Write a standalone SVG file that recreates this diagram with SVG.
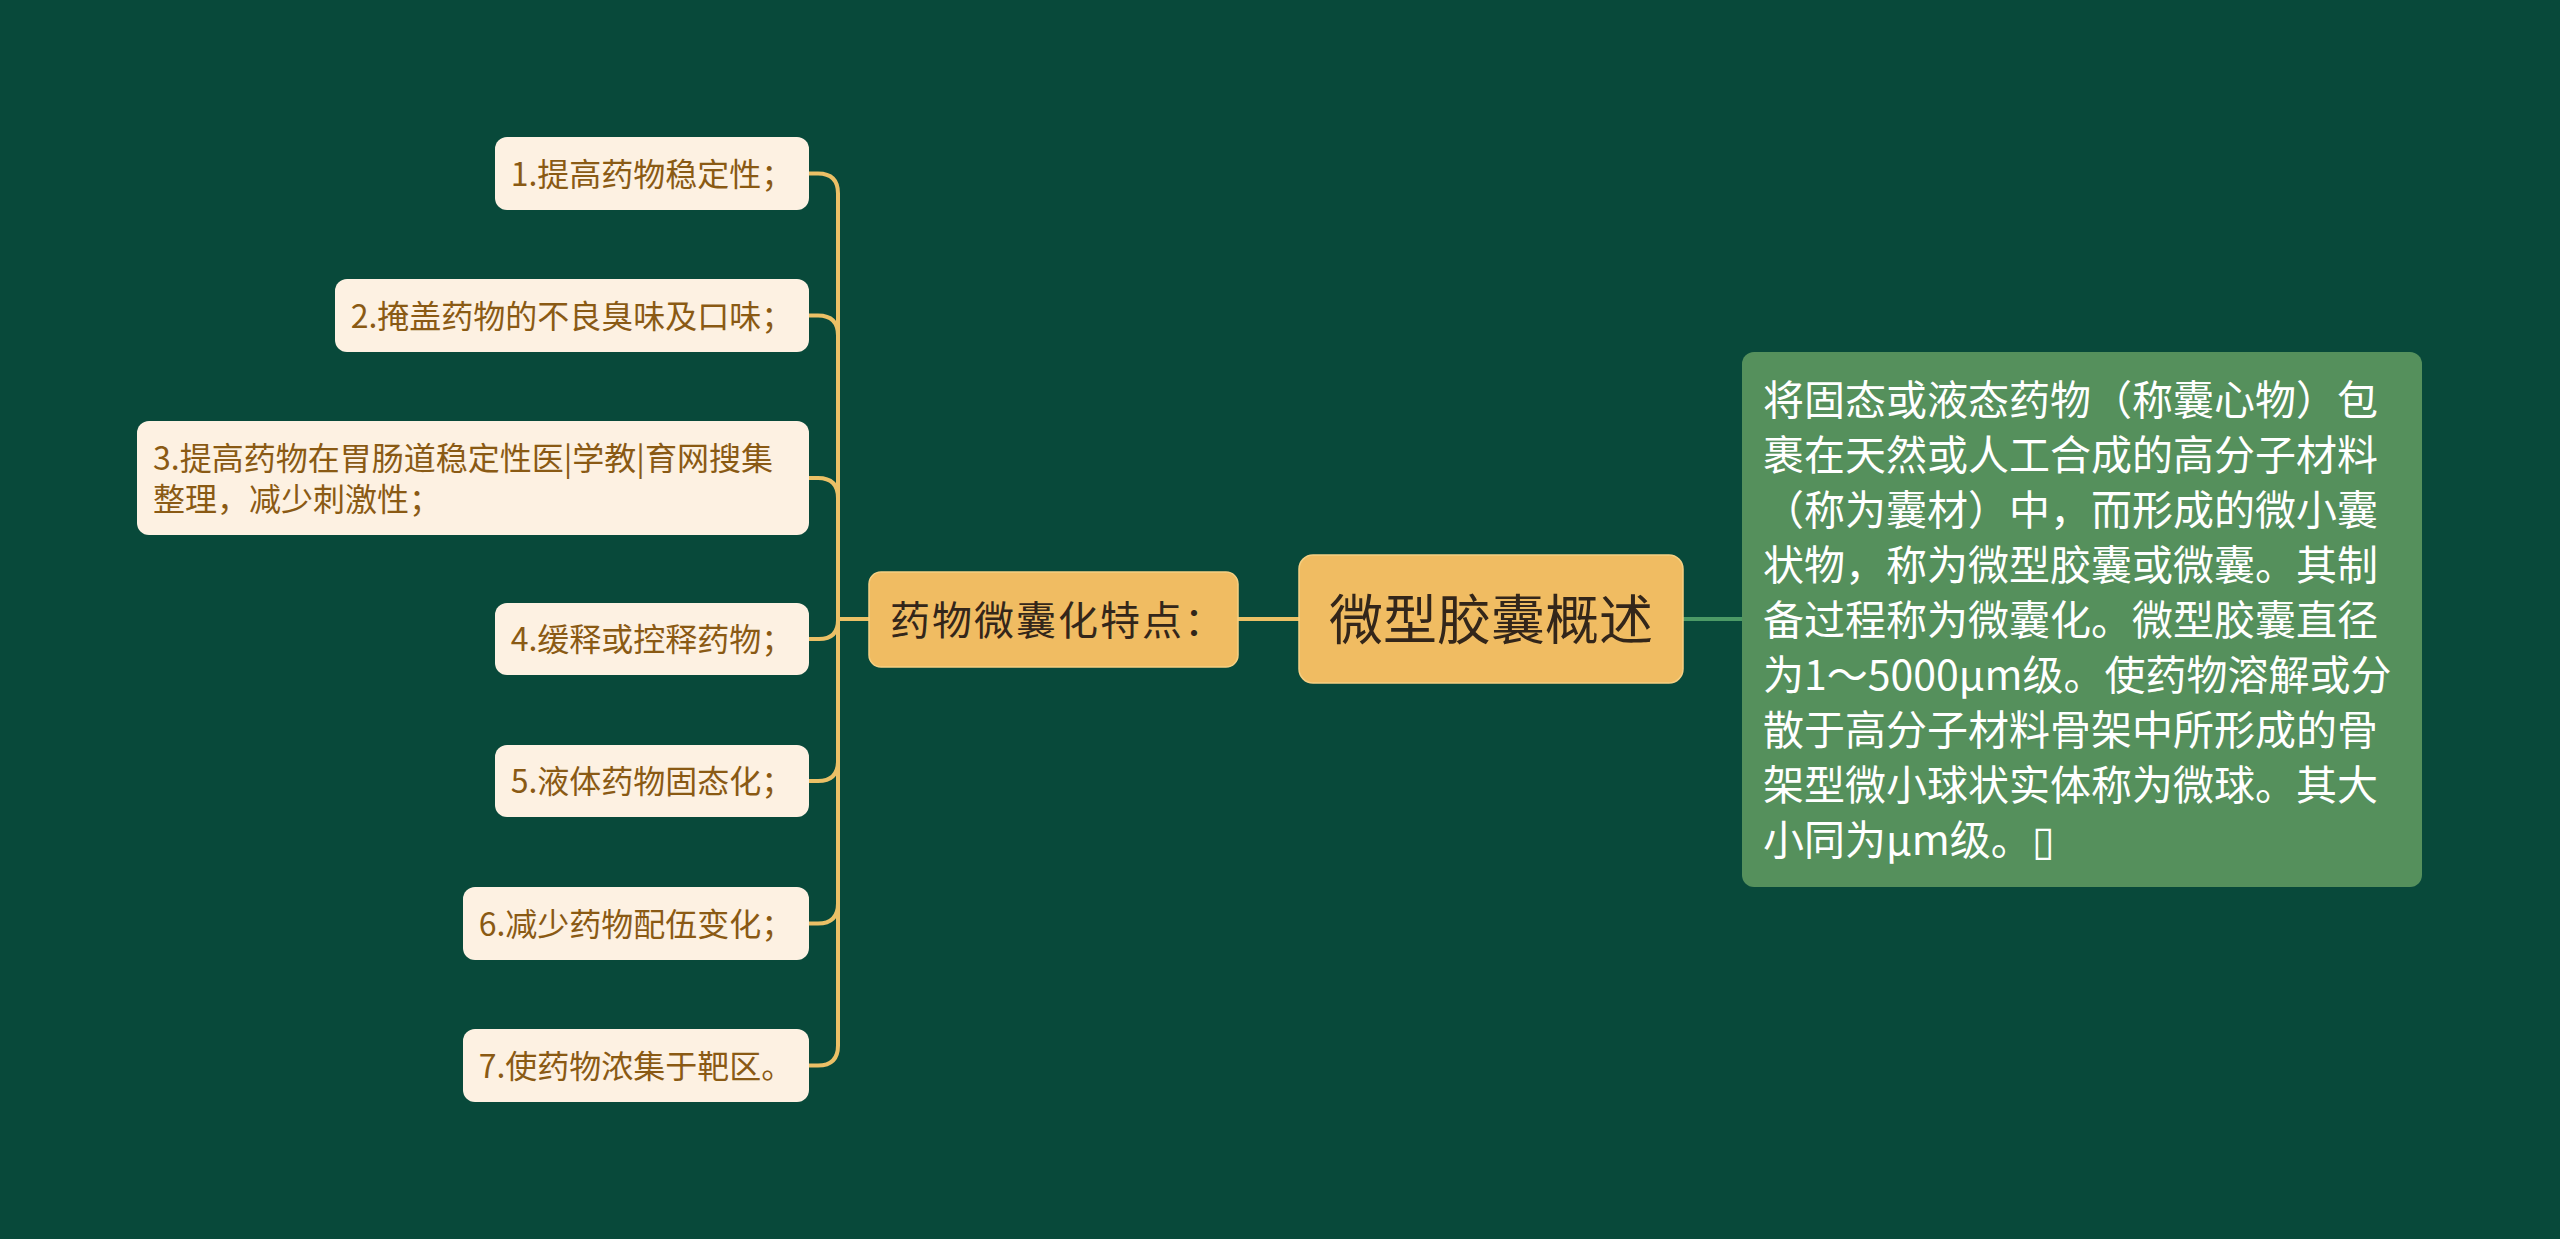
<svg xmlns="http://www.w3.org/2000/svg" width="2560" height="1239" viewBox="0 0 2560 1239">
<style>
.leaf rect{fill:#FDF1E2;}
.leaf text{font-family:"Noto Sans CJK SC","Noto Sans",sans-serif;font-size:32px;fill:#8A5A14;}
.mid rect{fill:#F0BC62;stroke:#F6CF82;stroke-width:1.5;}
.mid text{font-family:"Noto Sans CJK SC","Noto Sans",sans-serif;font-size:40px;letter-spacing:2px;fill:#33261A;}
.root rect{fill:#F0BC62;stroke:#F6CF82;stroke-width:1.5;}
.root text{font-family:"Noto Sans CJK SC","Noto Sans",sans-serif;font-size:54px;fill:#33261A;text-anchor:middle;}
.desc rect{fill:#55905C;}
.desc text{font-family:"Noto Sans CJK SC","Noto Sans",sans-serif;font-size:41px;fill:#FFFFFF;}
.gold{fill:none;stroke:#EBC066;stroke-width:4;}
.green{fill:none;stroke:#4C9A66;stroke-width:4;}
</style>
<rect x="0" y="0" width="2560" height="1239" fill="#08493A"/>
<g id="connectors">
<path class="gold" d="M869 619 H838 V193.5 Q838 173.5 818 173.5 H809"/>
<path class="gold" d="M869 619 H838 V335.5 Q838 315.5 818 315.5 H809"/>
<path class="gold" d="M869 619 H838 V498 Q838 478 818 478 H809"/>
<path class="gold" d="M869 619 H838 V620 Q838 639 819 639 H809"/>
<path class="gold" d="M869 619 H838 V761 Q838 781 818 781 H809"/>
<path class="gold" d="M869 619 H838 V903.5 Q838 923.5 818 923.5 H809"/>
<path class="gold" d="M869 619 H838 V1045.5 Q838 1065.5 818 1065.5 H809"/>
<path class="gold" d="M1238 619 H1299"/>
<path class="green" d="M1683 619 H1742"/>
</g>
<g id="leaf1" class="leaf"><rect x="495" y="137" width="314" height="73" rx="12"/><text x="652" y="185.5" text-anchor="middle">1.提高药物稳定性；</text></g>
<g id="leaf2" class="leaf"><rect x="335" y="279" width="474" height="73" rx="12"/><text x="572" y="327.5" text-anchor="middle">2.掩盖药物的不良臭味及口味；</text></g>
<g id="leaf3" class="leaf"><rect x="137" y="421" width="672" height="114" rx="12"/><text x="153" y="469.5">3.提高药物在胃肠道稳定性医|学教|育网搜集</text><text x="153" y="510.5">整理，减少刺激性；</text></g>
<g id="leaf4" class="leaf"><rect x="495" y="603" width="314" height="72" rx="12"/><text x="652" y="651" text-anchor="middle">4.缓释或控释药物；</text></g>
<g id="leaf5" class="leaf"><rect x="495" y="745" width="314" height="72" rx="12"/><text x="652" y="793" text-anchor="middle">5.液体药物固态化；</text></g>
<g id="leaf6" class="leaf"><rect x="463" y="887" width="346" height="73" rx="12"/><text x="636" y="935.5" text-anchor="middle">6.减少药物配伍变化；</text></g>
<g id="leaf7" class="leaf"><rect x="463" y="1029" width="346" height="73" rx="12"/><text x="636" y="1077.5" text-anchor="middle">7.使药物浓集于靶区。</text></g>
<g id="mid" class="mid"><rect x="869" y="572" width="369" height="95" rx="12"/><text x="890" y="634.5">药物微囊化特点：</text></g>
<g id="root" class="root"><rect x="1299" y="555" width="384" height="128" rx="14"/><text x="1491" y="639.5">微型胶囊概述</text></g>
<g id="desc" class="desc"><rect x="1742" y="352" width="680" height="535" rx="12"/>
<text x="1763" y="415">将固态或液态药物（称囊心物）包</text>
<text x="1763" y="470">裹在天然或人工合成的高分子材料</text>
<text x="1763" y="525">（称为囊材）中，而形成的微小囊</text>
<text x="1763" y="580">状物，称为微型胶囊或微囊。其制</text>
<text x="1763" y="635">备过程称为微囊化。微型胶囊直径</text>
<text x="1763" y="690">为1～5000μm级。使药物溶解或分</text>
<text x="1763" y="745">散于高分子材料骨架中所形成的骨</text>
<text x="1763" y="800">架型微小球状实体称为微球。其大</text>
<text x="1763" y="855">小同为μm级。▯</text>
</g>
</svg>
